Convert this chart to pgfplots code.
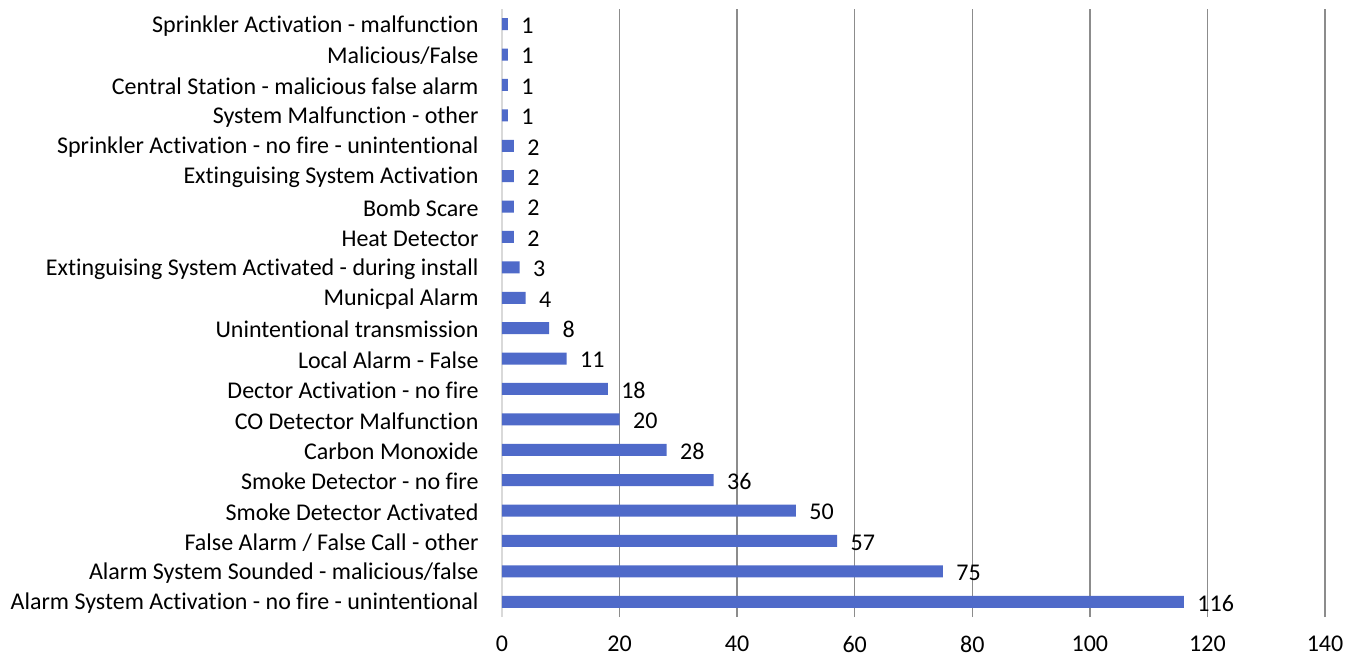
\documentclass[border=0pt]{standalone}
\usepackage{pgfplots}
\pgfplotsset{compat=1.18}
\usepackage{fontspec}
\setmainfont{Carlito}[Ligatures=NoCommon]
\definecolor{barblue}{RGB}{79,106,201}
\definecolor{gridgray}{RGB}{140,140,140}
\definecolor{axisgray}{RGB}{217,217,217}

\begin{document}
\begin{tikzpicture}[font=\fontsize{24bp}{28bp}\selectfont]
\path[use as bounding box] (-502bp,-40bp) rectangle (857bp,617bp);
\begin{axis}[
  at={(0,0)}, anchor=south west,
  scale only axis, width=823bp, height=608bp,
  xbar, bar width=12bp,
  xmin=0, xmax=140, ymin=-0.5, ymax=19.5,
  axis x line*=bottom, axis y line*=left,
  x axis line style={draw=none},
  y axis line style={axisgray, line width=1.2bp},
  xtick={20,40,...,140},
  extra x ticks={0},
  extra x tick style={grid=none},
  xmajorgrids=true,
  grid style={gridgray, line width=1.3bp},
  major tick length=0,
  ytick={0,...,19},
  yticklabels={
    Alarm System Activation - no fire - unintentional,
    Alarm System Sounded - malicious/false,
    False Alarm / False Call - other,
    Smoke Detector Activated,
    Smoke Detector - no fire,
    Carbon Monoxide,
    CO Detector Malfunction,
    Dector Activation - no fire,
    Local Alarm - False,
    Unintentional transmission,
    Municpal Alarm,
    Extinguising System Activated - during install,
    Heat Detector,
    Bomb Scare,
    Extinguising System Activation,
    Sprinkler Activation - no fire - unintentional,
    System Malfunction - other,
    Central Station - malicious false alarm,
    Malicious/False,
    Sprinkler Activation - malfunction},
  /pgf/number format/assume math mode=true,
  tick label style={font=\fontsize{24bp}{28bp}\selectfont, text=black},
  xticklabel style={yshift=-15.5bp},
  yticklabel style={xshift=-20bp, yshift=-1.5bp},
  nodes near coords,
  nodes near coords style={anchor=west, xshift=10bp, yshift=-1.5bp, font=\fontsize{24bp}{28bp}\selectfont, text=black},
]
\addplot[fill=barblue, draw=none] coordinates {
  (116,0) (75,1) (57,2) (50,3) (36,4) (28,5) (20,6) (18,7) (11,8) (8,9)
  (4,10) (3,11) (2,12) (2,13) (2,14) (2,15) (1,16) (1,17) (1,18) (1,19)
};
\end{axis}
\end{tikzpicture}
\end{document}
